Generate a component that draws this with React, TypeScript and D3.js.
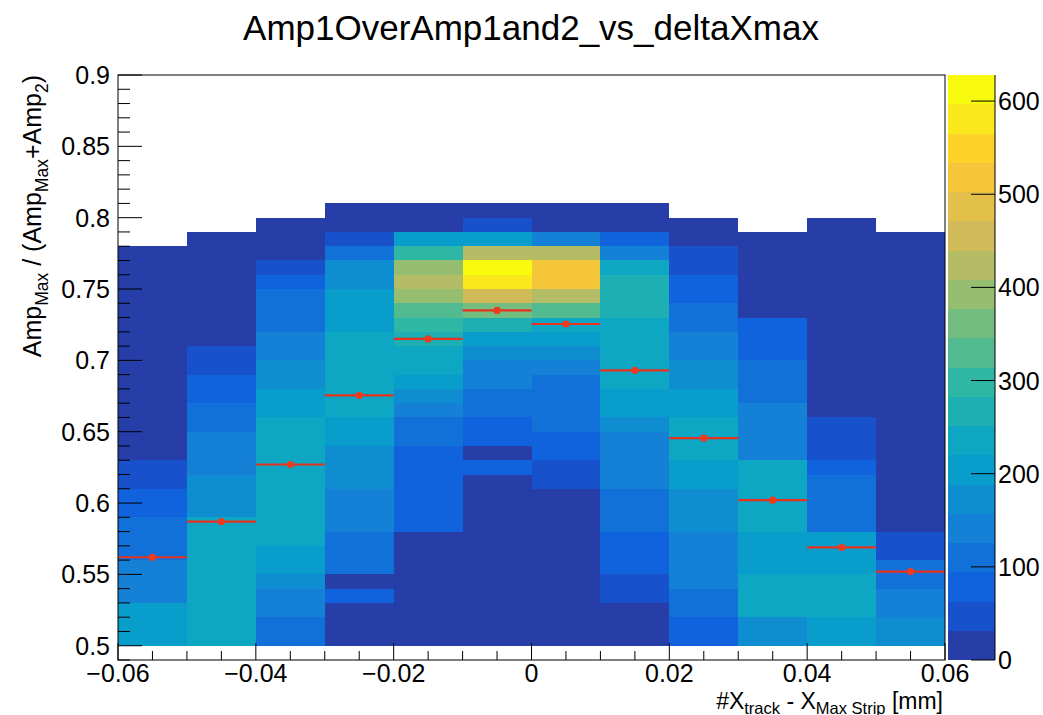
import React from 'react';
import * as d3 from 'd3';

// ---------- data ----------
const chartTitle = 'Amp1OverAmp1and2_vs_deltaXmax';

// lower edges of the x bins (deltaXmax, mm)
const xBinLow = [-0.06, -0.05, -0.04, -0.03, -0.02, -0.01, 0.0, 0.01, 0.02, 0.03, 0.04, 0.05];
const xBinWidth = 0.01;
// y bins start at 0.50 with width 0.01; each column lists counts from 0.50 upward
const yFirstBin = 0.5;
const yBinWidth = 0.01;

const countsM060 = [206, 201, 210, 143, 138, 146, 112, 108, 115, 80, 76, 49, 44, 18, 14, 12, 9, 8, 7, 6, 6, 5, 4, 4, 3, 3, 2, 2];
const countsM050 = [238, 241, 236, 233, 240, 237, 232, 239, 230, 176, 170, 168, 144, 139, 136, 113, 108, 81, 76, 50, 42, 22, 16, 12, 9, 7, 5, 4, 2];
const countsM040 = [108, 114, 139, 145, 174, 203, 209, 232, 238, 241, 236, 233, 240, 237, 231, 228, 210, 202, 176, 169, 143, 137, 115, 110, 104, 80, 47, 20, 10, 4];
const countsM030 = [8, 12, 21, 79, 25, 107, 113, 118, 136, 142, 148, 166, 172, 181, 200, 212, 228, 236, 242, 240, 234, 229, 215, 207, 199, 171, 178, 112, 46, 16, 6];
const countsM020 = [4, 6, 9, 12, 15, 19, 24, 28, 68, 74, 80, 83, 88, 91, 104, 117, 142, 175, 206, 231, 244, 266, 298, 331, 392, 428, 401, 302, 196, 22, 8];
const countsM010 = [3, 5, 6, 8, 9, 11, 12, 14, 16, 19, 22, 26, 70, 29, 84, 92, 106, 118, 135, 151, 174, 207, 268, 360, 458, 580, 628, 427, 208, 44, 12];
const countsP000 = [2, 4, 5, 7, 8, 10, 12, 15, 18, 22, 27, 40, 55, 72, 86, 100, 108, 114, 121, 145, 170, 207, 238, 333, 421, 516, 528, 422, 137, 18, 6];
const countsP010 = [6, 11, 24, 38, 52, 70, 79, 88, 101, 110, 122, 130, 139, 146, 152, 168, 196, 212, 226, 233, 240, 244, 238, 262, 271, 265, 236, 140, 77, 17, 5];
const countsP020 = [74, 86, 104, 118, 131, 139, 146, 153, 162, 175, 184, 198, 214, 229, 240, 233, 213, 201, 180, 166, 147, 135, 116, 102, 85, 72, 51, 40, 18, 7];
const countsP030 = [168, 180, 226, 238, 231, 214, 205, 218, 228, 240, 245, 237, 224, 152, 143, 136, 131, 118, 109, 99, 88, 78, 66, 27, 18, 12, 8, 5, 3];
const countsP040 = [200, 214, 229, 240, 233, 216, 205, 193, 122, 114, 106, 99, 82, 58, 47, 36, 25, 20, 16, 13, 11, 9, 8, 6, 5, 4, 3, 3, 2, 2];
const countsP050 = [178, 166, 148, 135, 116, 103, 55, 40, 28, 24, 21, 18, 16, 14, 12, 11, 10, 9, 8, 7, 6, 5, 5, 4, 3, 3, 2, 2, 2];

const columnCounts = [
  countsM060, countsM050, countsM040, countsM030, countsM020, countsM010,
  countsP000, countsP010, countsP020, countsP030, countsP040, countsP050,
];

// profile (mean of y in each x bin)
const profileMean = [0.562, 0.587, 0.627, 0.6755, 0.715, 0.735, 0.7255, 0.693, 0.6455, 0.602, 0.569, 0.552];

const yTickLabels = ['0.5', '0.55', '0.6', '0.65', '0.7', '0.75', '0.8', '0.85', '0.9'];
const xTickLabels = ['\u22120.06', '\u22120.04', '\u22120.02', '0', '0.02', '0.04', '0.06'];
const zTickLabels = ['0', '100', '200', '300', '400', '500', '600'];

// ROOT kBird palette stops
const birdStops = [0, 0.125, 0.25, 0.375, 0.5, 0.625, 0.75, 0.875, 1];
const birdR = [0.2082, 0.0592, 0.078, 0.0232, 0.1802, 0.5301, 0.8186, 0.9956, 0.9764];
const birdG = [0.1664, 0.3599, 0.5041, 0.6419, 0.7178, 0.7492, 0.7328, 0.7862, 0.9832];
const birdB = [0.5293, 0.8684, 0.8385, 0.7914, 0.6425, 0.4662, 0.3499, 0.1968, 0.0539];

// ---------- layout ----------
const W = 1043;
const H = 715;
const frame = { left: 118, right: 945, top: 75, bottom: 660 };
const zbar = { left: 948, right: 995 };
const nContours = 20;
const FONT = "'Liberation Sans', Arial, Helvetica, sans-serif";

const parseLabel = (s: string) => parseFloat(s.replace('\u2212', '-'));

const rS = d3.scaleLinear(birdStops, birdR);
const gS = d3.scaleLinear(birdStops, birdG);
const bS = d3.scaleLinear(birdStops, birdB);
const bird = (t: number) =>
  d3.rgb(Math.round(rS(t) * 255), Math.round(gS(t) * 255), Math.round(bS(t) * 255)).formatHex();

const levelColor = (k: number) => {
  const idx = Math.floor((k + 0.99) * 255 / nContours);
  return bird(Math.min(idx, 254) / 254);
};

export default function App() {
  const x = d3.scaleLinear().domain([-0.06, 0.06]).range([frame.left, frame.right]);
  const y = d3.scaleLinear().domain([0.49, 0.9]).range([frame.bottom, frame.top]);
  const zMax = d3.max(columnCounts.flat()) as number;
  const z = d3.scaleLinear().domain([0, zMax]).range([frame.bottom, frame.top]);
  const level = (v: number) => Math.min(nContours - 1, Math.floor((v / zMax) * nContours));

  const cells: React.ReactNode[] = [];
  columnCounts.forEach((col, i) => {
    const x0 = x(xBinLow[i]);
    const x1 = x(xBinLow[i] + xBinWidth);
    col.forEach((v, j) => {
      if (v <= 0) return;
      const lo = yFirstBin + j * yBinWidth;
      const y0 = y(lo + yBinWidth);
      const y1 = y(lo);
      cells.push(
        <rect key={`c${i}-${j}`} x={x0} y={y0} width={x1 - x0} height={y1 - y0}
          fill={levelColor(level(v))} shapeRendering="crispEdges" />
      );
    });
  });

  const yMinor = d3.range(49, 91).map((d) => d / 100);
  const yMajor = yTickLabels.map(parseLabel);
  const xMinor = d3.range(-12, 13).map((d) => d * 0.005);
  const xMajor = xTickLabels.map(parseLabel);
  const zMajor = zTickLabels.map(parseLabel);

  const bands = d3.range(nContours).map((k) => {
    const v0 = (k * zMax) / nContours;
    const v1 = ((k + 1) * zMax) / nContours;
    return (
      <rect key={`b${k}`} x={zbar.left} y={z(v1)} width={zbar.right - zbar.left}
        height={z(v0) - z(v1)} fill={levelColor(k)} shapeRendering="crispEdges" />
    );
  });

  return (
    <svg width={W} height={H} viewBox={`0 0 ${W} ${H}`}
      style={{ position: 'absolute', left: 0, top: 0, background: '#fff' }}
      fontFamily={FONT}>
      <rect x={0} y={0} width={W} height={H} fill="#fff" />
      {cells}

      {/* profile overlay */}
      {profileMean.map((m, i) => {
        const x0 = x(xBinLow[i]);
        const x1 = x(xBinLow[i] + xBinWidth);
        return (
          <g key={`p${i}`}>
            <line x1={x0} x2={x1} y1={y(m)} y2={y(m)} stroke="#e8321e" strokeWidth={2.2} />
            <circle cx={(x0 + x1) / 2} cy={y(m)} r={3.6} fill="#f03a1e" />
          </g>
        );
      })}

      {/* frame */}
      <rect x={frame.left} y={frame.top} width={frame.right - frame.left}
        height={frame.bottom - frame.top} fill="none" stroke="#000" strokeWidth={1} />

      {/* y axis ticks */}
      {yMinor.map((v, i) => {
        const isMajor = yMajor.some((m) => Math.abs(m - v) < 1e-9);
        return (
          <line key={`ym${i}`} x1={frame.left} x2={frame.left + (isMajor ? 24 : 12)}
            y1={y(v)} y2={y(v)} stroke="#000" strokeWidth={1} />
        );
      })}
      {yTickLabels.map((s, i) => (
        <text key={`yl${i}`} x={110} y={y(yMajor[i])} dy="0.36em" textAnchor="end"
          fontSize={25} fill="#000">{s}</text>
      ))}

      {/* x axis ticks */}
      {xMinor.map((v, i) => {
        const isMajor = xMajor.some((m) => Math.abs(m - v) < 1e-9);
        return (
          <line key={`xm${i}`} x1={x(v)} x2={x(v)} y1={frame.bottom}
            y2={frame.bottom - (isMajor ? 17 : 9)} stroke="#000" strokeWidth={1} />
        );
      })}
      {xTickLabels.map((s, i) => (
        <text key={`xl${i}`} x={x(xMajor[i])} y={682} textAnchor="middle"
          fontSize={25} fill="#000">{s}</text>
      ))}

      {/* colour bar */}
      {bands}
      <line x1={zbar.right} x2={zbar.right} y1={frame.top} y2={frame.bottom} stroke="#000" strokeWidth={1} />
      {zMajor.map((v, i) => (
        <g key={`zt${i}`}>
          <line x1={zbar.right - 24} x2={zbar.right} y1={z(v)} y2={z(v)} stroke="#000" strokeWidth={1} />
          <text x={998} y={z(v)} dy="0.36em" fontSize={25} fill="#000">{zTickLabels[i]}</text>
        </g>
      ))}

      {/* title */}
      <text x={531} y={40} textAnchor="middle" fontSize={35} fill="#000">{chartTitle}</text>

      {/* x axis title */}
      <text x={943} y={708.5} textAnchor="end" fontSize={23} fill="#000">
        <tspan>#X</tspan>
        <tspan fontSize={16.5} dy={5}>track</tspan>
        <tspan dy={-5}> - X</tspan>
        <tspan fontSize={16.5} dy={5}>Max Strip</tspan>
        <tspan dy={-5}> [mm]</tspan>
      </text>

      {/* y axis title */}
      <text transform={`translate(41, ${frame.top}) rotate(-90)`} textAnchor="end" fontSize={25} fill="#000">
        <tspan>Amp</tspan>
        <tspan fontSize={17.5} dy={7}>Max</tspan>
        <tspan dy={-7}> / (Amp</tspan>
        <tspan fontSize={17.5} dy={7}>Max</tspan>
        <tspan dy={-7}>+Amp</tspan>
        <tspan fontSize={17.5} dy={7}>2</tspan>
        <tspan dy={-7}>)</tspan>
      </text>
    </svg>
  );
}
